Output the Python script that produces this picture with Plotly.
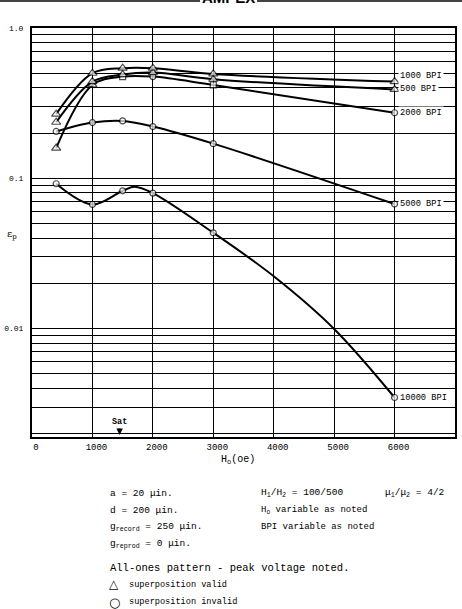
import math
import plotly.graph_objects as go

# ---------------- data ----------------
h_o = [400, 1000, 1500, 2000, 3000, 6000]
bpi1000 = [0.267, 0.50, 0.54, 0.54, 0.495, 0.44]
bpi500 = [0.236, 0.44, 0.49, 0.505, 0.456, 0.39]
bpi2000 = [0.159, 0.418, 0.475, 0.475, 0.418, 0.273]
bpi5000 = [0.205, 0.235, 0.241, 0.221, 0.170, 0.0674]
h_o_10000 = [400, 1000, 1500, 1700, 2000, 3000, 4000, 5000, 6000]
bpi10000 = [0.092, 0.067, 0.0826, 0.088, 0.0797, 0.0434, 0.0223, 0.00995, 0.00348]
marked_10000 = [1, 1, 1, 0, 1, 1, 0, 0, 1]

sym1000 = ["triangle-up"] * 6
sym500 = ["triangle-up"] * 6
sym2000 = ["triangle-up", "triangle-up", "square", "circle", "square", "circle"]
sym5000 = ["circle"] * 6

x_ticks = [0, 1000, 2000, 3000, 4000, 5000, 6000]
x_labels = ["0", "1000", "2000", "3000", "4000", "5000", "6000"]
decade_labels = {1.0: "1.0", 0.1: "0.1", 0.01: "0.01"}

series_labels = ["1000 BPI", "500 BPI", "2000 BPI", "5000 BPI", "10000 BPI"]

# ---------------- geometry helpers ----------------
W, H = 462, 609
L, R, T, B = 32, 455, 28, 437


def px(x):
    return (x - L) / (R - L)


def py(y):
    return (B - y) / (B - T)


MONO = "Liberation Mono"

fig = go.Figure()


def size_for(sym):
    return {"triangle-up": 8, "circle": 6, "square": 6}[sym]


def add_series(x, y, symbols, sizes=None):
    if sizes is None:
        sizes = [size_for(s) for s in symbols]
    fig.add_trace(go.Scatter(
        x=x, y=y, mode="lines+markers",
        line=dict(color="black", width=2, shape="spline", smoothing=1.0),
        marker=dict(symbol=symbols, size=sizes, color="white",
                    line=dict(color="black", width=1.2)),
        showlegend=False, cliponaxis=False, hoverinfo="skip"))


add_series(h_o, bpi2000, sym2000)
add_series(h_o, bpi500, sym500)
add_series(h_o, bpi1000, sym1000)
add_series(h_o, bpi5000, sym5000)
add_series(h_o_10000, bpi10000, ["circle"] * len(h_o_10000),
           [6 if m else 0 for m in marked_10000])

# y gridlines at every 1..9 x decade
y_vals, y_text = [], []
for d in [-3, -2, -1]:
    for k in range(1, 10):
        v = round(k * 10 ** d, 6)
        if v < 0.0019:
            continue
        y_vals.append(v)
        y_text.append(decade_labels.get(v, ""))
y_vals.append(1.0)
y_text.append("1.0")

fig.update_layout(
    width=W, height=H, autosize=False,
    margin=dict(l=L, r=W - R, t=T, b=H - B),
    paper_bgcolor="white", plot_bgcolor="white",
    font=dict(family=MONO, color="black", size=9),
    xaxis=dict(range=[0, 7000], tickvals=x_ticks, ticktext=x_labels,
               showgrid=True, gridcolor="black", gridwidth=1,
               showline=True, linecolor="black", linewidth=2, mirror=True,
               zeroline=False, ticks="", ticklabelshift=4, automargin=False,
               tickfont=dict(family=MONO, size=9, color="black")),
    yaxis=dict(type="log", range=[math.log10(0.0019), 0],
               tickvals=y_vals, ticktext=y_text,
               showgrid=True, gridcolor="black", gridwidth=1,
               showline=True, linecolor="black", linewidth=2, mirror=True,
               zeroline=False, ticks="", ticklabelstandoff=5, automargin=False,
               tickfont=dict(family=MONO, size=8, color="black")),
)

# series labels at right end
ends = [bpi1000[-1], bpi500[-1], bpi2000[-1], bpi5000[-1], bpi10000[-1]]
shifts = [6, 0, 0, 0, 0]
for lab, yv, ys in zip(series_labels, ends, shifts):
    fig.add_annotation(x=6000, y=math.log10(yv), text=lab, showarrow=False,
                       xanchor="left", yanchor="middle", xshift=3, yshift=ys,
                       bgcolor="white", borderpad=1,
                       font=dict(family=MONO, size=8.7, color="black"))

# Sat arrow
fig.add_annotation(x=1450, y=math.log10(0.00196), ax=0, ay=-13, text="<b>Sat</b>",
                   showarrow=True, arrowhead=2, arrowsize=1, arrowwidth=1.3,
                   arrowcolor="black", font=dict(family=MONO, size=8.5, color="black"))

# axis titles
fig.add_annotation(xref="paper", yref="paper", x=px(238), y=py(460),
                   xanchor="center", yanchor="middle",
                   text="H<sub>o</sub>(oe)", showarrow=False,
                   font=dict(family=MONO, size=10, color="black"))
fig.add_annotation(xref="paper", yref="paper", x=px(12), y=py(234),
                   xanchor="center", yanchor="middle",
                   text="ε<sub>p</sub>", showarrow=False,
                   font=dict(family="DejaVu Serif", size=10, color="black"))

# header
fig.add_annotation(xref="paper", yref="paper", x=px(228), y=py(8),
                   xanchor="center", yanchor="bottom", text="<b>AMPEX</b>",
                   showarrow=False,
                   font=dict(family="Liberation Sans", size=15, color="black"))
fig.add_shape(type="line", xref="paper", yref="paper", x0=px(0), x1=px(200),
              y0=py(1), y1=py(1), line=dict(color="#444", width=2))
fig.add_shape(type="line", xref="paper", yref="paper", x0=px(257), x1=px(462),
              y0=py(1), y1=py(1), line=dict(color="#444", width=2))

# notes
notes = [
    (108, 493, "a = 20 μin.", 9.5, MONO),
    (108, 510, "d = 200 μin.", 9.5, MONO),
    (108, 527, "g<sub>record</sub> = 250 μin.", 9.5, MONO),
    (108, 544, "g<sub>reprod</sub> = 0 μin.", 9.5, MONO),
    (259, 493, "H<sub>1</sub>/H<sub>2</sub> = 100/500", 9.5, MONO),
    (259, 510, "H<sub>o</sub> variable as noted", 9, MONO),
    (259, 527, "BPI variable as noted", 9, MONO),
    (383, 493, "μ<sub>1</sub>/μ<sub>2</sub> = 4/2", 9.5, MONO),
    (108, 568, "All-ones pattern - peak voltage noted.", 10.5, MONO),
    (127, 585, "superposition valid", 8.6, MONO),
    (127, 602, "superposition invalid", 8.6, MONO),
    (107, 584, "△", 12, "DejaVu Sans"),
    (107, 602, "○", 13, "DejaVu Sans"),
]
for x, y, txt, sz, fam in notes:
    fig.add_annotation(xref="paper", yref="paper", x=px(x), y=py(y),
                       xanchor="left", yanchor="middle", text=txt,
                       showarrow=False,
                       font=dict(family=fam, size=sz, color="black"))

fig.write_html("out.html")
